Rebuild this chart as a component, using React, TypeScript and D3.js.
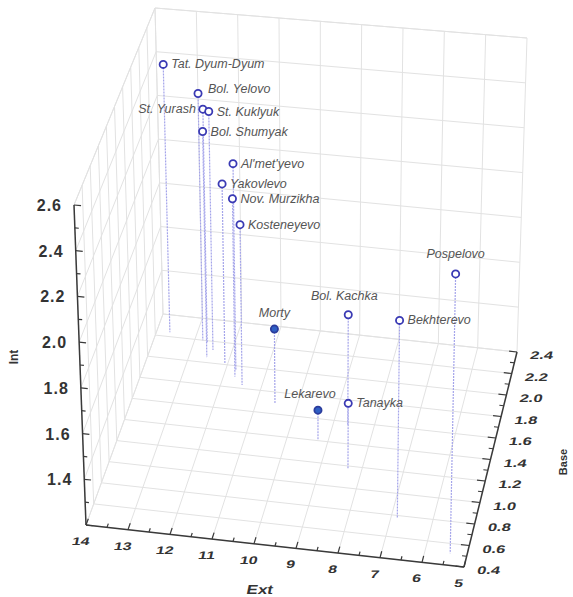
import * as d3 from 'd3';

// villages
const names = [
  'Tat. Dyum-Dyum', 'Bol. Yelovo', 'St. Yurash', 'St. Kuklyuk', 'Bol. Shumyak',
  "Al'met'yevo", 'Yakovlevo', 'Nov. Murzikha', 'Kosteneyevo', 'Morty',
  'Lekarevo', 'Tanayka', 'Bol. Kachka', 'Bekhterevo', 'Pospelovo'
];
const extValues = [13.67, 12.8, 12.67, 12.47, 12.56, 11.75, 12.07, 11.72, 11.48, 10.55, 9.25, 8.33, 8.64, 6.85, 5.4];
const baseValues = [2.24, 2.2, 2.18, 2.12, 2.05, 1.96, 2.01, 1.9, 1.83, 1.7, 1.41, 1.17, 1.57, 0.78, 0.51];
const intValues = [2.42, 2.32, 2.26, 2.28, 2.22, 2.13, 2.01, 2.0, 1.92, 1.53, 1.33, 1.49, 1.69, 2.06, 2.41];
const filledNames = ['Morty', 'Lekarevo'];

const extTicks = [14, 13, 12, 11, 10, 9, 8, 7, 6, 5];
const baseTicks = [0.4, 0.6, 0.8, 1.0, 1.2, 1.4, 1.6, 1.8, 2.0, 2.2, 2.4];
const intTicks = [1.4, 1.6, 1.8, 2.0, 2.2, 2.4, 2.6];

// label placement (not data)
const labelPos: Record<string, { dx: number; dy: number; anchor: string }> = {
  'Bol. Yelovo': { dx: 10, dy: 0, anchor: 'start' },
  'St. Yurash': { dx: -7, dy: 4, anchor: 'end' },
  Morty: { dx: 0, dy: -12, anchor: 'middle' },
  Lekarevo: { dx: -8, dy: -12, anchor: 'middle' },
  'Bol. Kachka': { dx: -4, dy: -15, anchor: 'middle' },
  Pospelovo: { dx: 0, dy: -16, anchor: 'middle' }
};

type P = [number, number];
// screen corners of the box: b = floor, t = top; first index Ext (14->5), second Base (0.4->2.4)
const b00: P = [86, 525], b10: P = [464, 567], b11: P = [517, 352], b01: P = [163, 314];
const t00: P = [74, 205], t10: P = [471, 243], t11: P = [527, 38], t01: P = [155, 8];

const uScale = d3.scaleLinear().domain([14, 5]).range([0, 1]);
const vScale = d3.scaleLinear().domain([0.4, 2.4]).range([0, 1]);
const wScale = d3.scaleLinear().domain([1.2, 2.6]).range([0, 1]);

function bil(a: P, b: P, c: P, d: P, u: number, v: number): P {
  return [
    a[0] * (1 - u) * (1 - v) + b[0] * u * (1 - v) + c[0] * u * v + d[0] * (1 - u) * v,
    a[1] * (1 - u) * (1 - v) + b[1] * u * (1 - v) + c[1] * u * v + d[1] * (1 - u) * v
  ];
}

function project(ext: number, base: number, int: number): P {
  const u = uScale(ext), v = vScale(base), w = wScale(int);
  const lo = bil(b00, b10, b11, b01, u, v);
  const hi = bil(t00, t10, t11, t01, u, v);
  return [lo[0] + (hi[0] - lo[0]) * w, lo[1] + (hi[1] - lo[1]) * w];
}

const seg = (p: P, q: P) => `M${p[0]},${p[1]}L${q[0]},${q[1]}`;

export default function App() {
  const [extMin, extMax] = [5, 14];
  const [baseMin, baseMax] = [0.4, 2.4];
  const [intMin, intMax] = [1.2, 2.6];
  const intGrid = d3.range(intMin, intMax + 0.001, 0.2);

  const grid: string[] = [];
  // floor
  extTicks.forEach(e => grid.push(seg(project(e, baseMin, intMin), project(e, baseMax, intMin))));
  baseTicks.forEach(b => grid.push(seg(project(extMax, b, intMin), project(extMin, b, intMin))));
  // back wall
  extTicks.forEach(e => grid.push(seg(project(e, baseMax, intMin), project(e, baseMax, intMax))));
  intGrid.forEach(i => grid.push(seg(project(extMax, baseMax, i), project(extMin, baseMax, i))));
  // left wall
  baseTicks.forEach(b => grid.push(seg(project(extMax, b, intMin), project(extMax, b, intMax))));
  intGrid.forEach(i => grid.push(seg(project(extMax, baseMin, i), project(extMax, baseMax, i))));
  // box top edges
  grid.push(seg(project(extMax, baseMin, intMax), project(extMax, baseMax, intMax)));
  grid.push(seg(project(extMax, baseMax, intMax), project(extMin, baseMax, intMax)));

  const axisColor = '#3a3a3a';
  const intMinor = d3.range(12, 27).map(d => d / 10);
  const baseMinor = d3.range(4, 25).map(d => d / 10);
  const extMinor = d3.range(10, 29).map(d => d / 2);

  return (
    <svg width={573} height={597} style={{ position: 'absolute', left: 0, top: 0, background: '#fff' }}
      fontFamily="Liberation Sans, Arial, sans-serif">
      <g stroke="#e2e2e2" strokeWidth={1} fill="none">
        {grid.map((d, k) => <path key={k} d={d} />)}
      </g>

      {/* drop lines */}
      <g stroke="#a4a4ea" strokeWidth={1.2} strokeDasharray="2 1">
        {names.map((n, k) => {
          const p = project(extValues[k], baseValues[k], intValues[k]);
          const q = project(extValues[k], baseValues[k], intMin);
          return <line key={n} x1={p[0]} y1={p[1]} x2={q[0]} y2={q[1]} />;
        })}
      </g>

      {/* Int axis */}
      <g stroke={axisColor} strokeWidth={1.5}>
        <path d={seg(project(extMax, baseMin, intMin), project(extMax, baseMin, intMax))} />
        {intMinor.map(i => {
          const major = Math.abs(Math.round(i * 5) - i * 5) < 1e-6;
          return <path key={i} d={seg(project(extMax, baseMin, i), project(extMax - (major ? 0.16 : 0.09), baseMin, i))} strokeWidth={1.2} />;
        })}
      </g>
      {intTicks.map(i => {
        const p = project(extMax, baseMin, i);
        return (
          <text key={i} x={p[0] - 12} y={p[1] + 6} textAnchor="end" fontSize={16} fontWeight="bold"
            letterSpacing={1} fill="#333">{i.toFixed(1)}</text>
        );
      })}

      {/* Ext axis */}
      <g stroke={axisColor} strokeWidth={1.5}>
        <path d={seg(project(extMax, baseMin, intMin), project(extMin, baseMin, intMin))} />
        {extMinor.map(e => {
          const major = Number.isInteger(e);
          return <path key={e} d={seg(project(e, baseMin, intMin), project(e, baseMin + (major ? 0.06 : 0.035), intMin))} strokeWidth={1.2} />;
        })}
      </g>
      {extTicks.map(e => {
        const p = project(e, baseMin, intMin);
        const x = p[0] - 6, y = p[1] + 20;
        return (
          <text key={e} transform={`translate(${x},${y}) skewX(-12) scale(1.45,1)`} textAnchor="middle"
            fontSize={11} fontWeight="bold" fill="#333">{e}</text>
        );
      })}

      {/* Base axis */}
      <g stroke={axisColor} strokeWidth={1.5}>
        <path d={seg(project(extMin, baseMin, intMin), project(extMin, baseMax, intMin))} />
        {baseMinor.map(b => {
          const major = Math.abs(Math.round(b * 5) - b * 5) < 1e-6;
          return <path key={b} d={seg(project(extMin, b, intMin), project(extMin + (major ? 0.2 : 0.11), b, intMin))} strokeWidth={1.2} />;
        })}
      </g>
      {baseTicks.map(b => {
        const p = project(extMin, b, intMin);
        const x = p[0] + 24, y = p[1] + 7;
        return (
          <text key={b} transform={`translate(${x},${y}) skewX(-12) scale(1.5,1)`} textAnchor="middle"
            fontSize={11} fontWeight="bold" fill="#333">{b.toFixed(1)}</text>
        );
      })}

      {/* axis titles */}
      <text transform="translate(259,594) skewX(-12) scale(1.3,1)" textAnchor="middle" fontSize={13}
        fontWeight="bold" fill="#333">Ext</text>
      <text transform="translate(18,357) rotate(-90)" textAnchor="middle" fontSize={12}
        fontWeight="bold" fill="#333">Int</text>
      <text transform="translate(567,462) rotate(-90)" textAnchor="middle" fontSize={11}
        fontWeight="bold" fill="#333">Base</text>

      {/* points */}
      {names.map((n, k) => {
        const p = project(extValues[k], baseValues[k], intValues[k]);
        const filled = filledNames.includes(n);
        return (
          <circle key={n} cx={p[0]} cy={p[1]} r={3.6} fill={filled ? '#2f5fc4' : '#fff'}
            stroke={filled ? '#2b3c9c' : '#3a3ab4'} strokeWidth={1.8} />
        );
      })}

      {/* labels */}
      {names.map((n, k) => {
        const p = project(extValues[k], baseValues[k], intValues[k]);
        const lp = labelPos[n] ?? { dx: 8, dy: 4, anchor: 'start' };
        return (
          <text key={n} x={p[0] + lp.dx} y={p[1] + lp.dy} textAnchor={lp.anchor} fontSize={12.5}
            fontStyle="italic" fill="#555">{n}</text>
        );
      })}
    </svg>
  );
}
